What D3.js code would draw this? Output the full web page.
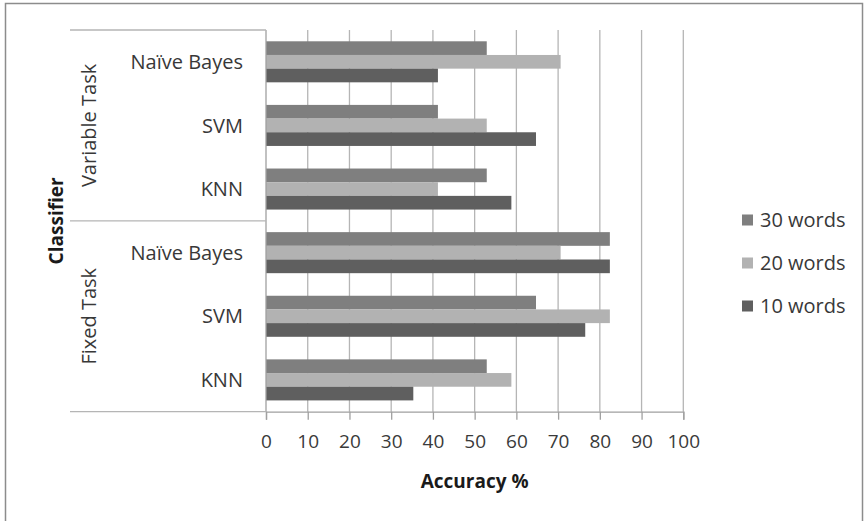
<!DOCTYPE html>
<html>
<head>
<meta charset="utf-8">
<script src="https://cdn.jsdelivr.net/npm/d3@7/dist/d3.min.js"></script>
<style>
  html, body { margin: 0; padding: 0; background: #fff; }
  svg { display: block; font-family: "Open Sans", sans-serif; }
</style>
</head>
<body>
<svg id="chart" width="865" height="521"></svg>
<script>
// ---- data ----
const groups = ["Variable Task", "Fixed Task"];
const classifiers = ["Naïve Bayes", "SVM", "KNN"];
const seriesNames = ["30 words", "20 words", "10 words"];
const words30 = [52.9, 41.2, 52.9, 82.4, 64.7, 52.9];
const words20 = [70.6, 52.9, 41.2, 70.6, 82.4, 58.8];
const words10 = [41.2, 64.7, 58.8, 82.4, 76.5, 35.3];
const xTicks = [0, 10, 20, 30, 40, 50, 60, 70, 80, 90, 100];
const xTitle = "Accuracy %";
const yTitle = "Classifier";

(function () {
// rows: each group with its classifiers
const rows = [];
groups.forEach(g => classifiers.forEach(c => rows.push({ group: g, name: c, key: g + "|" + c })));
const seriesValues = [words30, words20, words10];
const colors = ["#7f7f7f", "#b2b2b2", "#5f5f5f"];

const svg = d3.select("#chart");

// outer frame
svg.append("rect").attr("x", 5.5).attr("y", 3.5).attr("width", 857).attr("height", 600)
  .attr("fill", "none").attr("stroke", "#8c8c8c").attr("stroke-width", 1.5);

const pL = 266, pR = 683.3, pT = 30, pB = 411.7;

const x = d3.scaleLinear().domain([0, 100]).range([pL, pR]);
const y = d3.scaleBand().domain(rows.map(r => r.key)).range([pT, pB])
  .paddingInner(0.355).paddingOuter(0.1775);
const ys = d3.scaleBand().domain(seriesNames).range([0, y.bandwidth()]);

// gridlines
svg.append("g").selectAll("line").data(xTicks.slice(1)).join("line")
  .attr("x1", d => x(d)).attr("x2", d => x(d))
  .attr("y1", pT).attr("y2", pB)
  .attr("stroke", "#b5b5b5").attr("stroke-width", 1.3);

// bars
seriesNames.forEach((s, si) => {
  svg.append("g").selectAll("rect").data(rows).join("rect")
    .attr("x", x(0))
    .attr("y", (d) => y(d.key) + ys(s))
    .attr("width", (d, i) => x(seriesValues[si][i]) - x(0))
    .attr("height", ys.bandwidth())
    .attr("fill", colors[si]);
});

// x axis
const xAxis = d3.axisBottom(x).tickValues(xTicks).tickSize(8).tickPadding(15).tickFormat(d3.format("d"));
const gx = svg.append("g").attr("transform", `translate(0,${pB})`).call(xAxis);
gx.select(".domain").attr("stroke", "#a0a0a0").attr("stroke-width", 1.3);
gx.selectAll(".tick line").attr("stroke", "#a0a0a0").attr("stroke-width", 1.3);
gx.selectAll(".tick text").attr("fill", "#3a3a3a").style("font-size", "19px")
  .style("font-family", "'Open Sans', sans-serif");

// y axis line
svg.append("line").attr("x1", pL).attr("x2", pL).attr("y1", pT).attr("y2", pB)
  .attr("stroke", "#a0a0a0").attr("stroke-width", 1.3);

// hierarchical label table lines
const groupBounds = [pT, y(rows[3].key) - y.step() * y.paddingInner() / 2, pB];
svg.append("g").selectAll("line").data(groupBounds).join("line")
  .attr("x1", 70).attr("x2", pL).attr("y1", d => d).attr("y2", d => d)
  .attr("stroke", "#b5b5b5").attr("stroke-width", 1.3);

// category labels
svg.append("g").selectAll("text").data(rows).join("text")
  .attr("x", 243).attr("y", d => y(d.key) + y.bandwidth() / 2)
  .attr("dy", "0.36em").attr("text-anchor", "end")
  .attr("fill", "#383838").style("font-size", "20px")
  .text(d => d.name);

// group labels
groups.forEach((g, gi) => {
  const cy = (groupBounds[gi] + groupBounds[gi + 1]) / 2;
  svg.append("text").attr("transform", `translate(96,${cy}) rotate(-90)`)
    .attr("text-anchor", "middle").attr("fill", "#383838").style("font-size", "20px")
    .text(g);
});

// axis titles
svg.append("text").attr("transform", `translate(63,${(pT + pB) / 2}) rotate(-90)`)
  .attr("text-anchor", "middle").attr("fill", "#1a1a1a")
  .style("font-size", "19px").style("font-weight", "bold").text(yTitle);
svg.append("text").attr("x", (pL + pR) / 2).attr("y", 488)
  .attr("text-anchor", "middle").attr("fill", "#1a1a1a")
  .style("font-size", "19px").style("font-weight", "bold").text(xTitle);

// legend
const legend = svg.append("g");
seriesNames.forEach((s, i) => {
  const cy = 220 + i * 43;
  legend.append("rect").attr("x", 742).attr("y", cy - 5.5).attr("width", 11).attr("height", 11)
    .attr("fill", colors[i]);
  legend.append("text").attr("x", 760).attr("y", cy).attr("dy", "0.36em")
    .attr("fill", "#383838").style("font-size", "20px").text(s);
});
})();
</script>
</body>
</html>
